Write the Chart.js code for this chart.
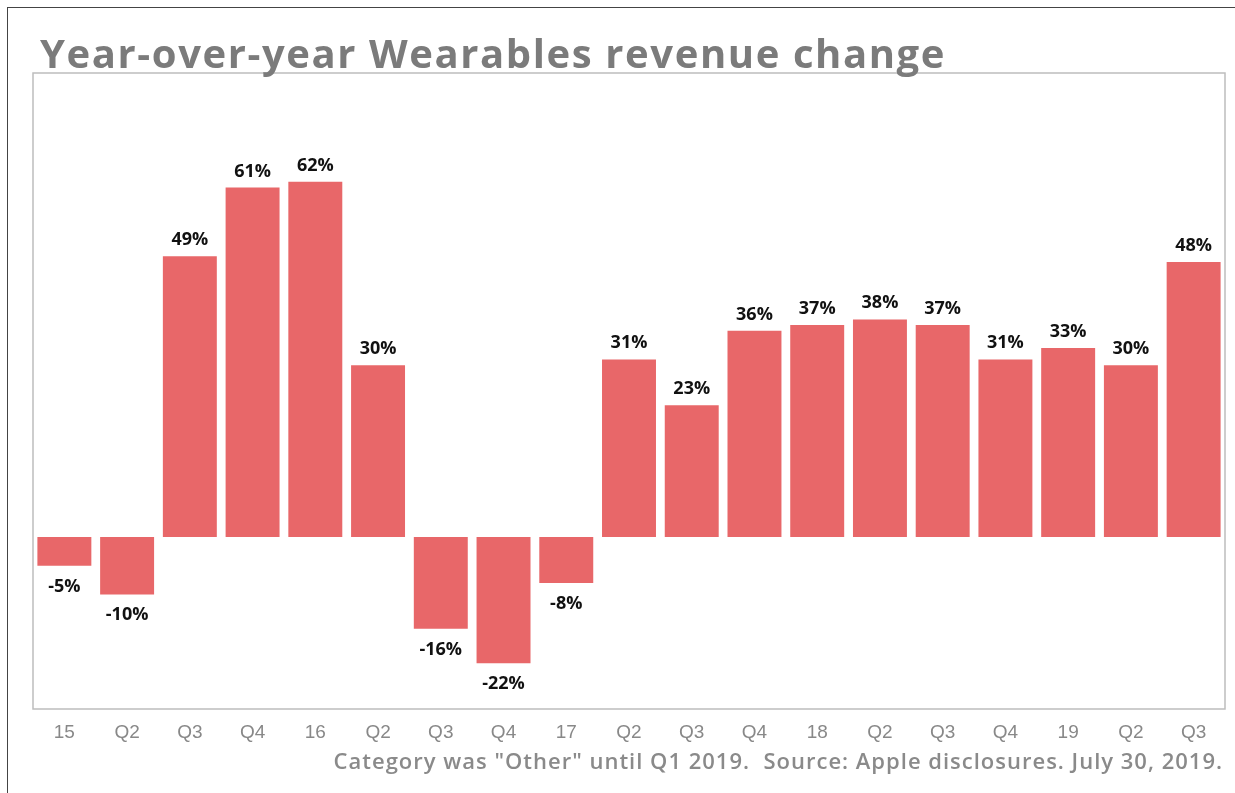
<!DOCTYPE html>
<html>
<head>
<meta charset="utf-8">
<script src="https://cdn.jsdelivr.net/npm/chart.js@4.4.1/dist/chart.umd.min.js"></script>
<style>
  html, body { margin: 0; padding: 0; background: #fff; }
  #wrap { position: relative; width: 1235px; height: 793px; overflow: hidden; }
  #frame { position: absolute; left: 7px; top: 7px; right: -10px; bottom: -10px;
           border-top: 1.5px solid #444; border-left: 1.5px solid #444; }
  #title { position: absolute; left: 40px; top: 33px; font-family: "Open Sans", sans-serif;
           font-weight: 700; font-size: 40px; color: #7b7b7b; letter-spacing: 1.6px;
           white-space: nowrap; z-index: 2; line-height: 1; }
  #note { position: absolute; right: 12px; top: 749px; font-family: "Open Sans", sans-serif;
          font-weight: 600; font-size: 22px; color: #8a8a8a; letter-spacing: 1px;
          white-space: pre; line-height: 1; }
  canvas { position: absolute; left: 0; top: 0; }
</style>
</head>
<body>
<div id="wrap">
  <div id="frame"></div>
  <canvas id="wearables" width="1235" height="793"></canvas>
  <div id="title">Year-over-year Wearables revenue change</div>
  <div id="note">Category was "Other" until Q1 2019.  Source: Apple disclosures. July 30, 2019.</div>
</div>
<script>
// fiscal quarters, Q1 2015 .. Q3 2019
const quarters = ["15", "Q2", "Q3", "Q4", "16", "Q2", "Q3", "Q4", "17", "Q2",
                  "Q3", "Q4", "18", "Q2", "Q3", "Q4", "19", "Q2", "Q3"];
// year-over-year change, percent
const yoyChange = [-5, -10, 49, 61, 62, 30, -16, -22, -8, 31,
                   23, 36, 37, 38, 37, 31, 33, 30, 48];

const barColor = "#e86769";

// light grey box around the plot area
const plotBox = {
  id: "plotBox",
  beforeDatasetsDraw(chart) {
    const { ctx, chartArea: a } = chart;
    ctx.save();
    ctx.strokeStyle = "#bdbdbd";
    ctx.lineWidth = 1.5;
    ctx.strokeRect(a.left, a.top, a.right - a.left, a.bottom - a.top);
    ctx.restore();
  }
};

// percent labels above positive bars, below negative ones
const valueLabels = {
  id: "valueLabels",
  afterDatasetsDraw(chart) {
    const { ctx } = chart;
    const meta = chart.getDatasetMeta(0);
    ctx.save();
    ctx.font = "700 18px 'Open Sans', sans-serif";
    ctx.fillStyle = "#111";
    ctx.textAlign = "center";
    ctx.textBaseline = "alphabetic";
    meta.data.forEach((bar, i) => {
      const v = yoyChange[i];
      const y = v >= 0 ? bar.y - 11 : bar.y + 26;
      ctx.fillText(v + "%", bar.x, y);
    });
    ctx.restore();
  }
};

new Chart(document.getElementById("wearables"), {
  type: "bar",
  data: {
    labels: quarters,
    datasets: [{
      data: yoyChange,
      backgroundColor: barColor,
      borderWidth: 0,
      barPercentage: 0.86,
      categoryPercentage: 1.0
    }]
  },
  options: {
    responsive: false,
    animation: false,
    devicePixelRatio: 1,
    layout: { padding: { left: 33, top: 73, right: 10, bottom: 44 } },
    plugins: { legend: { display: false }, tooltip: { enabled: false } },
    scales: {
      x: {
        grid: { display: false, drawTicks: false },
        border: { display: false },
        ticks: {
          color: "#888",
          padding: 12,
          maxRotation: 0,
          autoSkip: false,
          font: { family: "'Liberation Sans', Arial, sans-serif", size: 19 }
        },
        afterFit(scale) { scale.height = 40; }
      },
      y: {
        display: false,
        min: -30,
        max: 81
      }
    }
  },
  plugins: [plotBox, valueLabels]
});
</script>
</body>
</html>
